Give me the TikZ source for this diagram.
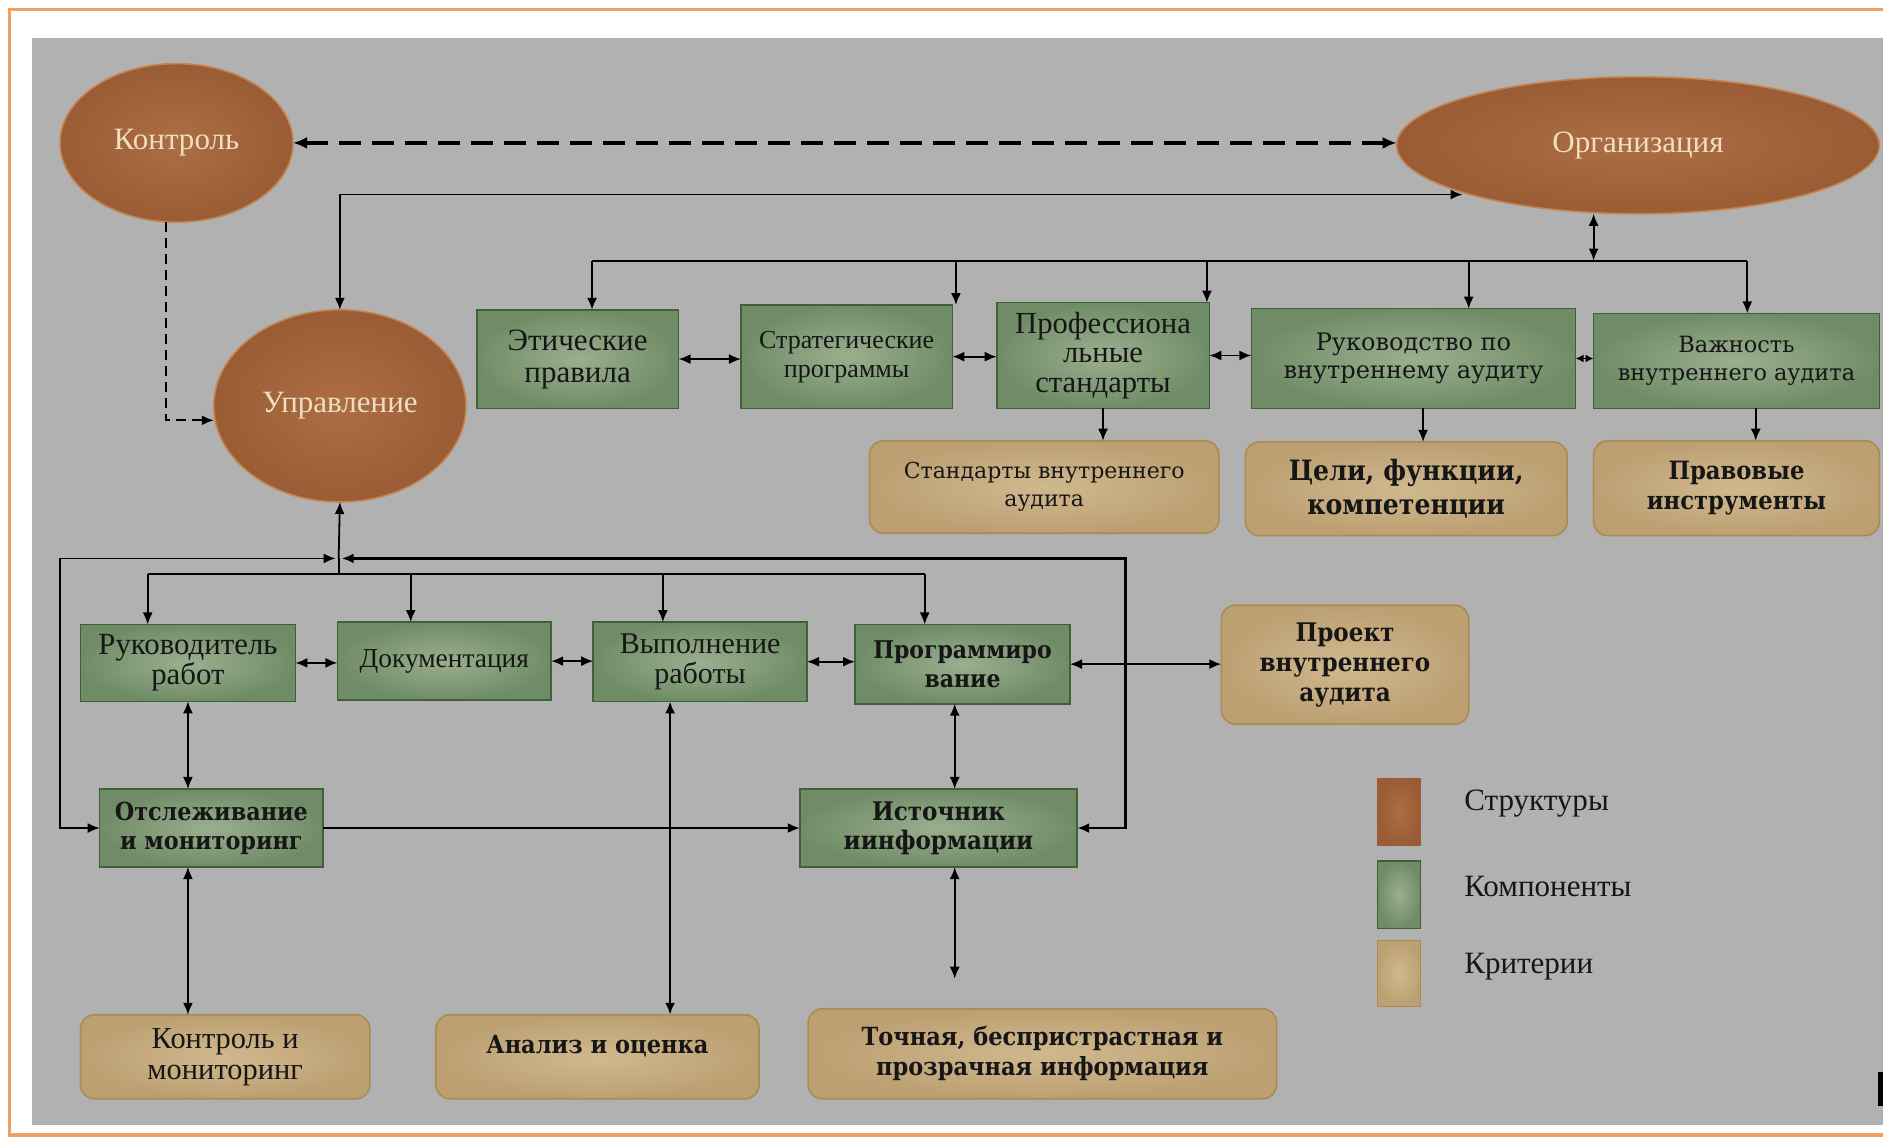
\documentclass[tikz,border=0pt]{standalone}
\usepackage{fontspec}
\setmainfont{Liberation Serif}
\newfontfamily\cam{DejaVu Serif}
\newfontfamily\camb{DejaVu Serif}[FakeStretch=0.9]
\usetikzlibrary{shapes.geometric,arrows.meta,calc}
\definecolor{bggray}{HTML}{B1B1B1}
\definecolor{frameor}{HTML}{F0A060}
\definecolor{greenB}{HTML}{3C6236}
\definecolor{greenI}{HTML}{9AAF8E}
\definecolor{greenO}{HTML}{708C67}
\definecolor{beigeB}{HTML}{A88C52}
\definecolor{beigeI}{HTML}{D0B88E}
\definecolor{beigeO}{HTML}{BCA072}
\definecolor{brownB}{HTML}{C48450}
\definecolor{brownI}{HTML}{AD6E44}
\definecolor{brownO}{HTML}{9A5C34}
\definecolor{elltext}{HTML}{EEDFC0}
\definecolor{txt}{HTML}{161616}
\newcommand\mkbox[7]{\node[#6, minimum width={(#4-#2)*0.6pt}, minimum height={(#5-#3)*0.6pt}] (#1) at ({(#2+#4)/2},{(#3+#5)/2}) {#7};}
\tikzset{
  comp/.style={draw=greenB, line width=0.8pt, inner color=greenI, outer color=greenO, align=center, text=txt, inner sep=0pt, outer sep=0pt},
  crit/.style={draw=beigeB, line width=0.8pt, rounded corners=7pt, inner color=beigeI, outer color=beigeO, align=center, text=txt, inner sep=0pt, outer sep=0pt},
  struct/.style={ellipse, draw=brownB, line width=0.8pt, inner color=brownI, outer color=brownO, text=elltext, inner sep=0pt, outer sep=0pt, font=\fontsize{15.5}{17}\selectfont},
  legtxt/.style={anchor=west, text=txt, font=\fontsize{15.5}{17}\selectfont, inner sep=0pt},
  conn/.style={line width=0.9pt, draw=black},
}
\begin{document}
\begin{tikzpicture}[x=0.6pt,y=-0.6pt, >={Latex[length=6pt,width=5pt]}]
\useasboundingbox (0,0) rectangle (1568,949);
\fill[white] (0,0) rectangle (1568,949);
\draw[frameor, line width=1.8pt] (1600,8) -- (8,8) -- (8,945) -- (1600,945);
\fill[bggray] (27,32) rectangle (1568,937);
\fill[black] (1564,893) rectangle (1568,921);

% structures
\node[struct, minimum width={194*0.6pt}, minimum height={132*0.6pt}] (kon) at (147,119) {Контроль};
\node[struct, minimum width={402*0.6pt}, minimum height={114*0.6pt}] (org) at (1364,121) {Организация};
\node[struct, minimum width={210*0.6pt}, minimum height={160*0.6pt}] (upr) at (283,338) {Управление};

% row 1 components
\mkbox{et}{397}{258}{565}{340}{comp, font=\fontsize{15.5}{16}\selectfont}{Этические\\правила}
\mkbox{str}{617}{254}{793}{340}{comp, font=\fontsize{13}{14.5}\selectfont}{Стратегические\\программы}
\mkbox{prof}{830}{252}{1007}{340}{comp, font=\fontsize{15.3}{14.8}\selectfont}{Профессиона\\льные\\стандарты}
\mkbox{ruk}{1042}{257}{1312}{340}{comp, font=\cam\fontsize{12}{14}\selectfont}{Руководство по\\внутреннему аудиту}
\mkbox{vazh}{1327}{261}{1565}{340}{comp, font=\cam\fontsize{11.2}{14}\selectfont}{Важность\\внутреннего аудита}

% row 1 criteria
\mkbox{std}{724}{367}{1015}{444}{crit, font=\cam\fontsize{11}{14}\selectfont}{Стандарты внутреннего\\аудита}
\mkbox{tsel}{1037}{368}{1305}{446}{crit, font=\camb\bfseries\fontsize{14}{17}\selectfont}{Цели, функции,\\компетенции}
\mkbox{prav}{1327}{367}{1565}{446}{crit, font=\camb\bfseries\fontsize{12.6}{15}\selectfont}{Правовые\\инструменты}

% row 2
\mkbox{rukr}{67}{520}{246}{584}{comp, font=\fontsize{15.4}{15}\selectfont}{Руководитель\\работ}
\mkbox{doc}{281}{518}{459}{583}{comp, font=\fontsize{13.7}{15}\selectfont}{Документация}
\mkbox{vyp}{494}{518}{672}{584}{comp, font=\fontsize{15}{15}\selectfont}{Выполнение\\работы}
\mkbox{prog}{712}{520}{891}{586}{comp, font=\camb\bfseries\fontsize{12.2}{14.5}\selectfont}{Программиро\\вание}
\mkbox{proj}{1017}{504}{1223}{603}{crit, font=\camb\bfseries\fontsize{12.8}{15}\selectfont}{Проект\\внутреннего\\аудита}

% row 3
\mkbox{otsl}{83}{657}{269}{722}{comp, font=\camb\bfseries\fontsize{12.4}{14.5}\selectfont}{Отслеживание\\и мониторинг}
\mkbox{ist}{666}{657}{897}{722}{comp, font=\camb\bfseries\fontsize{12.8}{14.5}\selectfont}{Источник\\иинформации}

% bottom criteria
\mkbox{kim}{67}{845}{308}{915}{crit, font=\fontsize{15.2}{15.5}\selectfont}{Контроль и\\мониторинг}
\mkbox{anal}{363}{845}{632}{915}{crit, font=\camb\bfseries\fontsize{12.5}{15}\selectfont}{Анализ и оценка\\[-3pt]\mbox{}}
\mkbox{toch}{673}{840}{1063}{915}{crit, font=\camb\bfseries\fontsize{12.5}{15}\selectfont}{Точная, беспристрастная и\\прозрачная информация}

% legend
\mkbox{ls}{1147}{648}{1183}{704}{draw=brownO, line width=0.6pt, inner color=brownI, outer color=brownO}{}
\mkbox{lc}{1147}{717}{1183}{773}{draw=greenB, line width=0.6pt, inner color=greenI, outer color=greenO}{}
\mkbox{lk}{1147}{783}{1183}{838}{draw=beigeB, line width=0.6pt, inner color=beigeI, outer color=beigeO}{}
\node[legtxt] (lst) at (1219,669) {Структуры};
\node[legtxt] (lct) at (1219,738) {Компоненты};
\node[legtxt] (lkt) at (1219,805) {Критерии};

% connectors
\begin{scope}[conn]
\draw[<->, line width=1.8pt, dash pattern=on 11pt off 5.5pt, >={Latex[length=7pt,width=6pt]}] (kon.east) -- (kon.east -| org.west);
\draw[->, dash pattern=on 5pt off 3pt] ([xshift=-5.4pt]kon.south) |- ([yshift=-7.2pt]upr.west);
\coordinate (c1) at (283,162);
\draw[<->] (upr.north) -- (c1) -- (c1 -| org.195.5);

\coordinate (ob) at (1327,217);
\coordinate (t1) at (493,217);
\coordinate (t2) at (796,217);
\coordinate (t3) at (1005,217);
\coordinate (t4) at (1223,217);
\coordinate (t5) at (1455,217);
\draw[<->] (ob |- org.south) -- (ob);
\draw (t1) -- (t5);
\draw[->] (t1) -- (t1 |- et.north);
\draw[->] (t2) -- (t2 |- str.north);
\draw[->] (t3) -- (t3 |- prof.north);
\draw[->] (t4) -- (t4 |- ruk.north);
\draw[->] (t5) -- (t5 |- vazh.north);

\draw[<->] (et.east) -- (et.east -| str.west);
\draw[<->] (str.east) -- (str.east -| prof.west);
\draw[<->] (prof.east) -- (prof.east -| ruk.west);
\draw[{Latex[length=4pt,width=4pt]}-{Latex[length=4pt,width=4pt]}] (ruk.east) -- (ruk.east -| vazh.west);

\draw[->] (prof.south) -- (prof.south |- std.north);
\draw[->] ([xshift=4.8pt]ruk.south) -- ([xshift=4.8pt]ruk.south |- tsel.north);
\draw[->] ([xshift=9.6pt]vazh.south) -- ([xshift=9.6pt]vazh.south |- prav.north);

\coordinate (J) at (282,465);
\coordinate (L) at (50,465);
\coordinate (R) at (937,465);
\draw[->] (J) -- (upr.south);
\draw[<->, shorten >=1.5pt] (otsl.west) -| (L) -- (J);
\draw[<->, shorten >=1.5pt, line width=1.3pt] (ist.east) -| (R) -- (J);

\coordinate (b1) at (123,478);
\coordinate (b2) at (342,478);
\coordinate (b3) at (552,478);
\coordinate (b4) at (770,478);
\draw (J) -- (J |- b1);
\draw (b1) -- (b4);
\draw[->] (b1) -- (b1 |- rukr.north);
\draw[->] (b2) -- (b2 |- doc.north);
\draw[->] (b3) -- (b3 |- vyp.north);
\draw[->] (b4) -- (b4 |- prog.north);

\draw[<->] (rukr.east) -- (rukr.east -| doc.west);
\draw[<->] (doc.east) -- (doc.east -| vyp.west);
\draw[<->] (vyp.east) -- (vyp.east -| prog.west);
\draw[<->] (prog.east) -- (prog.east -| proj.west);

\draw[<->] (rukr.south) -- (rukr.south |- otsl.north);
\draw[<->] (rukr.south |- otsl.south) -- (rukr.south |- kim.north);
\draw[<->, line width=1.3pt] ([xshift=-15pt]vyp.south) -- ([xshift=-15pt]vyp.south |- anal.north);
\draw[<->] ([xshift=-3.9pt]prog.south) -- ([xshift=-3.9pt]prog.south |- ist.north);
\draw[->] (otsl.east) -- (ist.west);
\coordinate (fe) at (795,815);
\draw[<->] (fe |- ist.south) -- (fe);
\end{scope}
\end{tikzpicture}
\end{document}
